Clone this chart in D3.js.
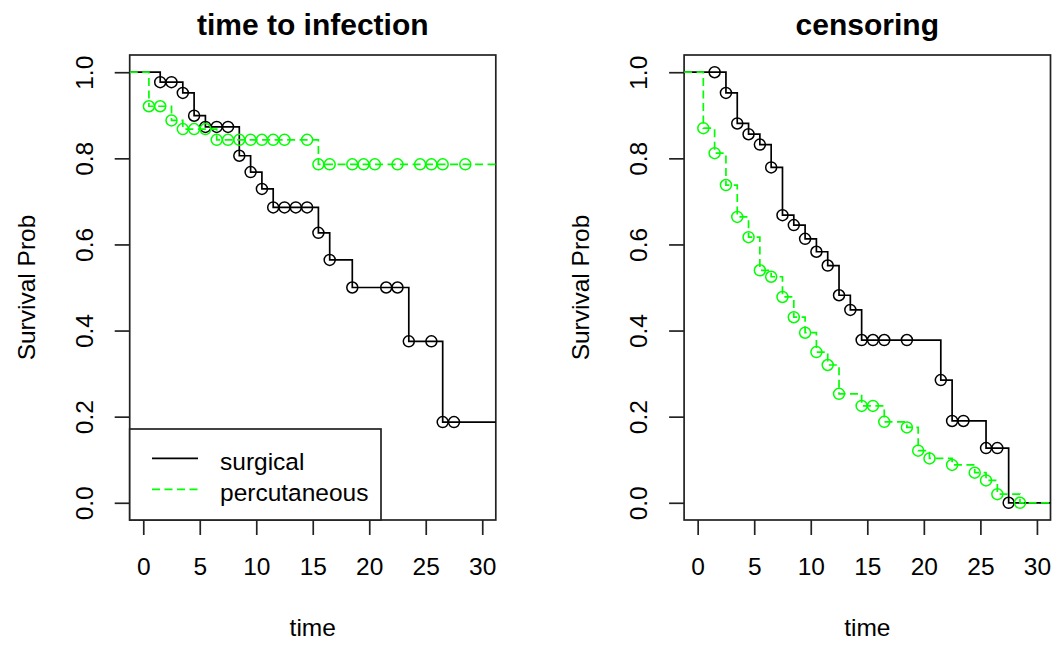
<!DOCTYPE html>
<html><head><meta charset="utf-8">
<script src="https://cdn.jsdelivr.net/npm/d3@7"></script>
<style>body{margin:0;background:#fff} text{font-family:"Liberation Sans",Arial,sans-serif;fill:#000}</style>
</head><body><svg id="c" width="1054" height="646"></svg>
<script>
// ---- data ----
const xTicks = [0, 5, 10, 15, 20, 25, 30];
const yTicks = [0, 0.2, 0.4, 0.6, 0.8, 1.0];
const seriesNames = ["surgical", "percutaneous"];
const seriesColors = ["#000000", "#00ff00"];
const panelTitles = ["time to infection", "censoring"];

// time to infection (Kaplan-Meier)
const infSurgTime = [1.5,2.5,3.5,4.5,5.5,6.5,7.5,8.5,9.5,10.5,11.5,12.5,13.5,14.5,15.5,16.5,18.5,21.5,22.5,23.5,25.5,26.5,27.5];
const infSurgSurv = [0.977,0.977,0.952,0.899,0.873,0.873,0.873,0.806,0.768,0.729,0.686,0.686,0.686,0.686,0.627,0.564,0.500,0.500,0.500,0.375,0.375,0.1875,0.1875];
const infPercTime = [0.5,1.5,2.5,3.5,4.5,5.5,6.5,7.5,8.5,9.5,10.5,11.5,12.5,14.5,15.5,16.5,18.5,19.5,20.5,22.5,24.5,25.5,26.5,28.5];
const infPercSurv = [0.921,0.921,0.888,0.868,0.868,0.868,0.843,0.843,0.843,0.843,0.843,0.843,0.843,0.843,0.786,0.786,0.786,0.786,0.786,0.786,0.786,0.786,0.786,0.786];

// censoring (reverse Kaplan-Meier)
const cenSurgTime = [1.5,2.5,3.5,4.5,5.5,6.5,7.5,8.5,9.5,10.5,11.5,12.5,13.5,14.5,15.5,16.5,18.5,21.5,22.5,23.5,25.5,26.5,27.5];
const cenSurgSurv = [1.0,0.952,0.881,0.856,0.832,0.779,0.668,0.645,0.613,0.583,0.551,0.482,0.448,0.378,0.378,0.378,0.378,0.285,0.190,0.190,0.127,0.127,0.0];
const cenPercTime = [0.5,1.5,2.5,3.5,4.5,5.5,6.5,7.5,8.5,9.5,10.5,11.5,12.5,14.5,15.5,16.5,18.5,19.5,20.5,22.5,24.5,25.5,26.5,28.5];
const cenPercSurv = [0.870,0.812,0.738,0.664,0.617,0.540,0.525,0.478,0.431,0.395,0.350,0.320,0.253,0.225,0.225,0.188,0.175,0.121,0.103,0.088,0.070,0.052,0.020,0.0];

// ---- drawing ----
const svg = d3.select("#c");
const plotTop = 55, plotBottom = 520;
const xDom = [-1.2, 31.2], yDom = [-0.04, 1.04];
const panels = [
  {x0: 129.7, x1: 495.8, title: panelTitles[0], series: [[infSurgTime, infSurgSurv], [infPercTime, infPercSurv]], legend: true},
  {x0: 684.1, x1: 1050.5, title: panelTitles[1], series: [[cenSurgTime, cenSurgSurv], [cenPercTime, cenPercSurv]], legend: false}
];
const FS = 24.5;
const FF = '"Liberation Sans",Arial,sans-serif';

panels.forEach((p, pi) => {
  const x = d3.scaleLinear().domain(xDom).range([p.x0, p.x1]);
  const y = d3.scaleLinear().domain(yDom).range([plotBottom, plotTop]);
  const g = svg.append("g");
  const clipId = "clip" + pi;
  svg.append("clipPath").attr("id", clipId).append("rect")
    .attr("x", p.x0).attr("y", plotTop).attr("width", p.x1 - p.x0).attr("height", plotBottom - plotTop);

  // axes
  const xa = g.append("g").attr("transform", `translate(0,${plotBottom})`)
    .call(d3.axisBottom(x).tickValues(xTicks).tickSize(15).tickPadding(0).tickFormat(d3.format("d")));
  xa.select(".domain").remove();
  xa.selectAll("line").attr("stroke", "#222").attr("stroke-width", 1.7);
  xa.selectAll("text").attr("y", 55).attr("dy", null).attr("font-size", FS)
    .attr("font-family", FF).attr("fill", "#000");

  const ya = g.append("g").attr("transform", `translate(${p.x0},0)`)
    .call(d3.axisLeft(y).tickValues(yTicks).tickSize(15).tickFormat(d3.format(".1f")));
  ya.select(".domain").remove();
  ya.selectAll("line").attr("stroke", "#222").attr("stroke-width", 1.7);
  ya.selectAll("text").attr("x", null).attr("dy", null)
    .attr("transform", "translate(-37,0) rotate(-90)")
    .attr("text-anchor", "middle").attr("font-size", FS)
    .attr("font-family", FF).attr("fill", "#000");

  // box
  g.append("rect").attr("x", p.x0).attr("y", plotTop).attr("width", p.x1 - p.x0).attr("height", plotBottom - plotTop)
    .attr("fill", "none").attr("stroke", "#222").attr("stroke-width", 1.7);

  // labels
  g.append("text").attr("x", (p.x0 + p.x1) / 2).attr("y", 35).attr("text-anchor", "middle")
    .attr("font-size", 30).attr("font-weight", "bold").text(p.title);
  g.append("text").attr("x", (p.x0 + p.x1) / 2).attr("y", 636).attr("text-anchor", "middle")
    .attr("font-size", FS).text("time");
  g.append("text").attr("transform", `translate(${p.x0 - 95},${(plotTop + plotBottom) / 2}) rotate(-90)`)
    .attr("text-anchor", "middle").attr("font-size", FS).text("Survival Prob");

  // curves
  const line = d3.line().x(d => x(d[0])).y(d => y(d[1])).curve(d3.curveStepAfter);
  p.series.forEach((s, si) => {
    const [ts, vs] = s;
    const pts = [[xDom[0], 1.0]].concat(ts.map((t, i) => [t, vs[i]]));
    pts.push([xDom[1], vs[vs.length - 1]]);
    g.append("path").attr("clip-path", `url(#${clipId})`).datum(pts).attr("d", line)
      .attr("fill", "none").attr("stroke", seriesColors[si]).attr("stroke-width", 1.7)
      .attr("stroke-dasharray", si === 1 ? "8,4.5" : null);
    g.selectAll(null).data(ts.map((t, i) => [t, vs[i]])).enter().append("circle")
      .attr("cx", d => x(d[0])).attr("cy", d => y(d[1])).attr("r", 5.5)
      .attr("fill", "none").attr("stroke", seriesColors[si]).attr("stroke-width", 1.5);
  });

  if (p.legend) {
    const lx0 = p.x0, lx1 = 381, ly0 = 429, ly1 = plotBottom;
    g.append("rect").attr("x", lx0).attr("y", ly0).attr("width", lx1 - lx0).attr("height", ly1 - ly0)
      .attr("fill", "#fff").attr("stroke", "#222").attr("stroke-width", 1.7);
    const rows = [458.3, 489.3];
    seriesNames.forEach((n, i) => {
      g.append("line").attr("x1", 152).attr("x2", 198).attr("y1", rows[i]).attr("y2", rows[i])
        .attr("stroke", seriesColors[i]).attr("stroke-width", 1.7)
        .attr("stroke-dasharray", i === 1 ? "8,4.5" : null);
      g.append("text").attr("x", 220).attr("y", rows[i] + 12).attr("font-size", FS).text(n);
    });
  }
});
</script></body></html>
